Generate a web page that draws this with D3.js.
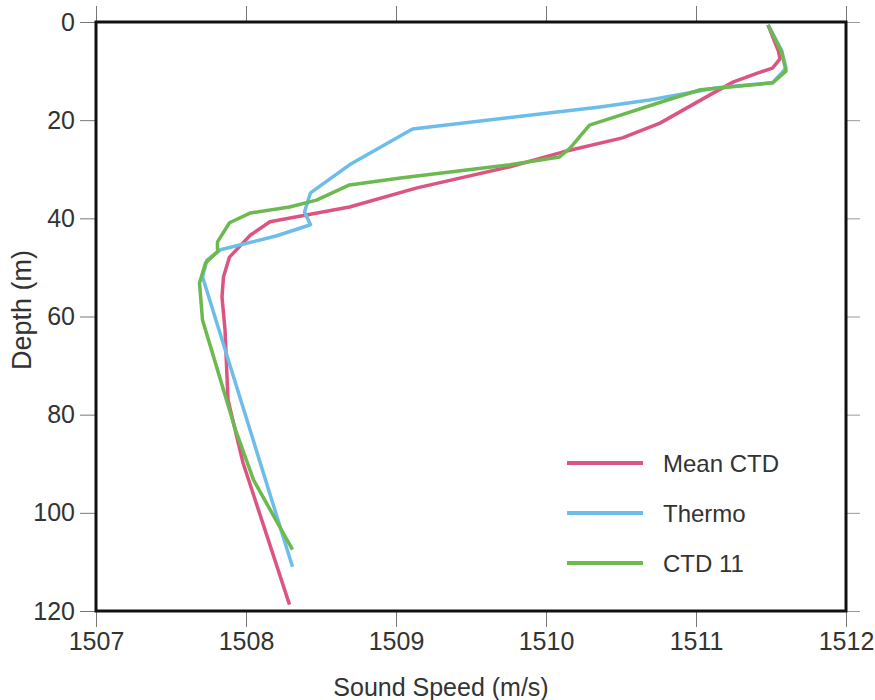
<!DOCTYPE html>
<html>
<head>
<meta charset="utf-8">
<script src="https://cdn.jsdelivr.net/npm/d3@7"></script>
<style>
  body { margin: 0; background: #fff; }
  svg { font-family: "Liberation Sans", Arial, Helvetica, sans-serif; }
</style>
</head>
<body>
<svg width="875" height="700"></svg>
<script>
// [sound speed (m/s), depth (m)]
let meanCtd = [
  [1511.48, 0.6], [1511.55, 6], [1511.56, 7.5], [1511.51, 9.4], [1511.41, 10.4],
  [1511.25, 12.2], [1511.09, 14.9], [1510.76, 20.6], [1510.51, 23.6], [1510.11, 26.5],
  [1509.76, 29.5], [1509.14, 33.8], [1508.69, 37.7], [1508.16, 40.7], [1508.03, 43.4],
  [1507.89, 47.9], [1507.85, 51.9], [1507.84, 56], [1507.86, 62.7], [1507.88, 77],
  [1507.98, 89.8], [1508.29, 118.7]
];
let thermo = [
  [1511.48, 0.6], [1511.57, 5.7], [1511.6, 9.4], [1511.51, 12.4], [1511.14, 13.4],
  [1510.69, 15.9], [1510.36, 17.3], [1509.11, 21.8], [1508.69, 29.1], [1508.43, 34.8],
  [1508.39, 38.7], [1508.43, 41.3], [1508.2, 43.6], [1507.83, 46.4], [1507.74, 48.5],
  [1507.71, 51.9], [1508.31, 111]
];
let ctd11 = [
  [1511.48, 0.6], [1511.57, 6], [1511.6, 10], [1511.51, 12.4], [1511.03, 13.8],
  [1510.81, 15.9], [1510.29, 21], [1510.16, 25.7], [1510.09, 27.5], [1509.76, 29.1],
  [1509.03, 31.8], [1508.69, 33.2], [1508.47, 36.3], [1508.29, 37.7], [1508.03, 38.9],
  [1507.89, 40.9], [1507.81, 44.8], [1507.81, 46.8], [1507.73, 49.1], [1507.69, 53.2],
  [1507.71, 60.7], [1507.77, 66.8], [1507.93, 83.1], [1508.05, 93.3], [1508.31, 107.5]
];

let seriesNames = ["Mean CTD", "Thermo", "CTD 11"];
let seriesColors = ["#dc5580", "#6cbde9", "#6cb94f"];
let xTicks = [1507, 1508, 1509, 1510, 1511, 1512];
let yTicks = [0, 20, 40, 60, 80, 100, 120];

let svg = d3.select("svg");

let x = d3.scaleLinear().domain([1507, 1512]).range([96, 846]);
let y = d3.scaleLinear().domain([0, 120]).range([22, 611]);

// axes
svg.append("g")
  .attr("transform", "translate(0, 611)")
  .call(d3.axisBottom(x).tickValues(xTicks).tickFormat(d3.format("d")).tickSize(16).tickPadding(5))
  .call(g => g.select(".domain").remove())
  .call(g => g.selectAll("line").attr("stroke", "#777"))
  .call(g => g.selectAll("text").attr("font-size", 25).attr("fill", "#333").attr("font-family", null));

svg.append("g")
  .attr("transform", "translate(0, 22)")
  .call(d3.axisTop(x).tickValues(xTicks).tickSize(16).tickFormat(""))
  .call(g => g.select(".domain").remove())
  .call(g => g.selectAll("line").attr("stroke", "#777"));

svg.append("g")
  .attr("transform", "translate(96, 0)")
  .call(d3.axisLeft(y).tickValues(yTicks).tickSize(16).tickPadding(5))
  .call(g => g.select(".domain").remove())
  .call(g => g.selectAll("line").attr("stroke", "#777"))
  .call(g => g.selectAll("text").attr("font-size", 25).attr("fill", "#333").attr("font-family", null));

svg.append("g")
  .attr("transform", "translate(846, 0)")
  .call(d3.axisRight(y).tickValues(yTicks).tickSize(14).tickFormat(""))
  .call(g => g.select(".domain").remove())
  .call(g => g.selectAll("line").attr("stroke", "#999"));

// lines
let line = d3.line()
  .x(d => x(d[0]))
  .y(d => y(d[1]));

svg.append("g")
  .selectAll("path")
  .data([meanCtd, thermo, ctd11])
  .join("path")
  .attr("d", line)
  .attr("fill", "none")
  .attr("stroke", (d, i) => seriesColors[i])
  .attr("stroke-width", 3.5)
  .attr("stroke-linejoin", "round");

// frame
svg.append("rect")
  .attr("x", x(1507))
  .attr("y", y(0))
  .attr("width", x(1512) - x(1507))
  .attr("height", y(120) - y(0))
  .attr("fill", "none")
  .attr("stroke", "#111")
  .attr("stroke-width", 3);

// axis titles
svg.append("text")
  .attr("x", 441)
  .attr("y", 696)
  .attr("text-anchor", "middle")
  .attr("font-size", 25)
  .attr("fill", "#333")
  .text("Sound Speed (m/s)");

svg.append("text")
  .attr("transform", "translate(31, 310) rotate(-90)")
  .attr("text-anchor", "middle")
  .attr("font-size", 27)
  .attr("fill", "#333")
  .text("Depth (m)");

// legend
let legend = svg.append("g")
  .selectAll("g")
  .data(seriesNames)
  .join("g")
  .attr("transform", (d, i) => `translate(567, ${463 + i * 50})`);

legend.append("line")
  .attr("x1", 0)
  .attr("x2", 76)
  .attr("stroke", (d, i) => seriesColors[i])
  .attr("stroke-width", 4);

legend.append("text")
  .attr("x", 96)
  .attr("dy", "0.36em")
  .attr("font-size", 24)
  .attr("fill", "#333")
  .text(d => d);
</script>
</body>
</html>
